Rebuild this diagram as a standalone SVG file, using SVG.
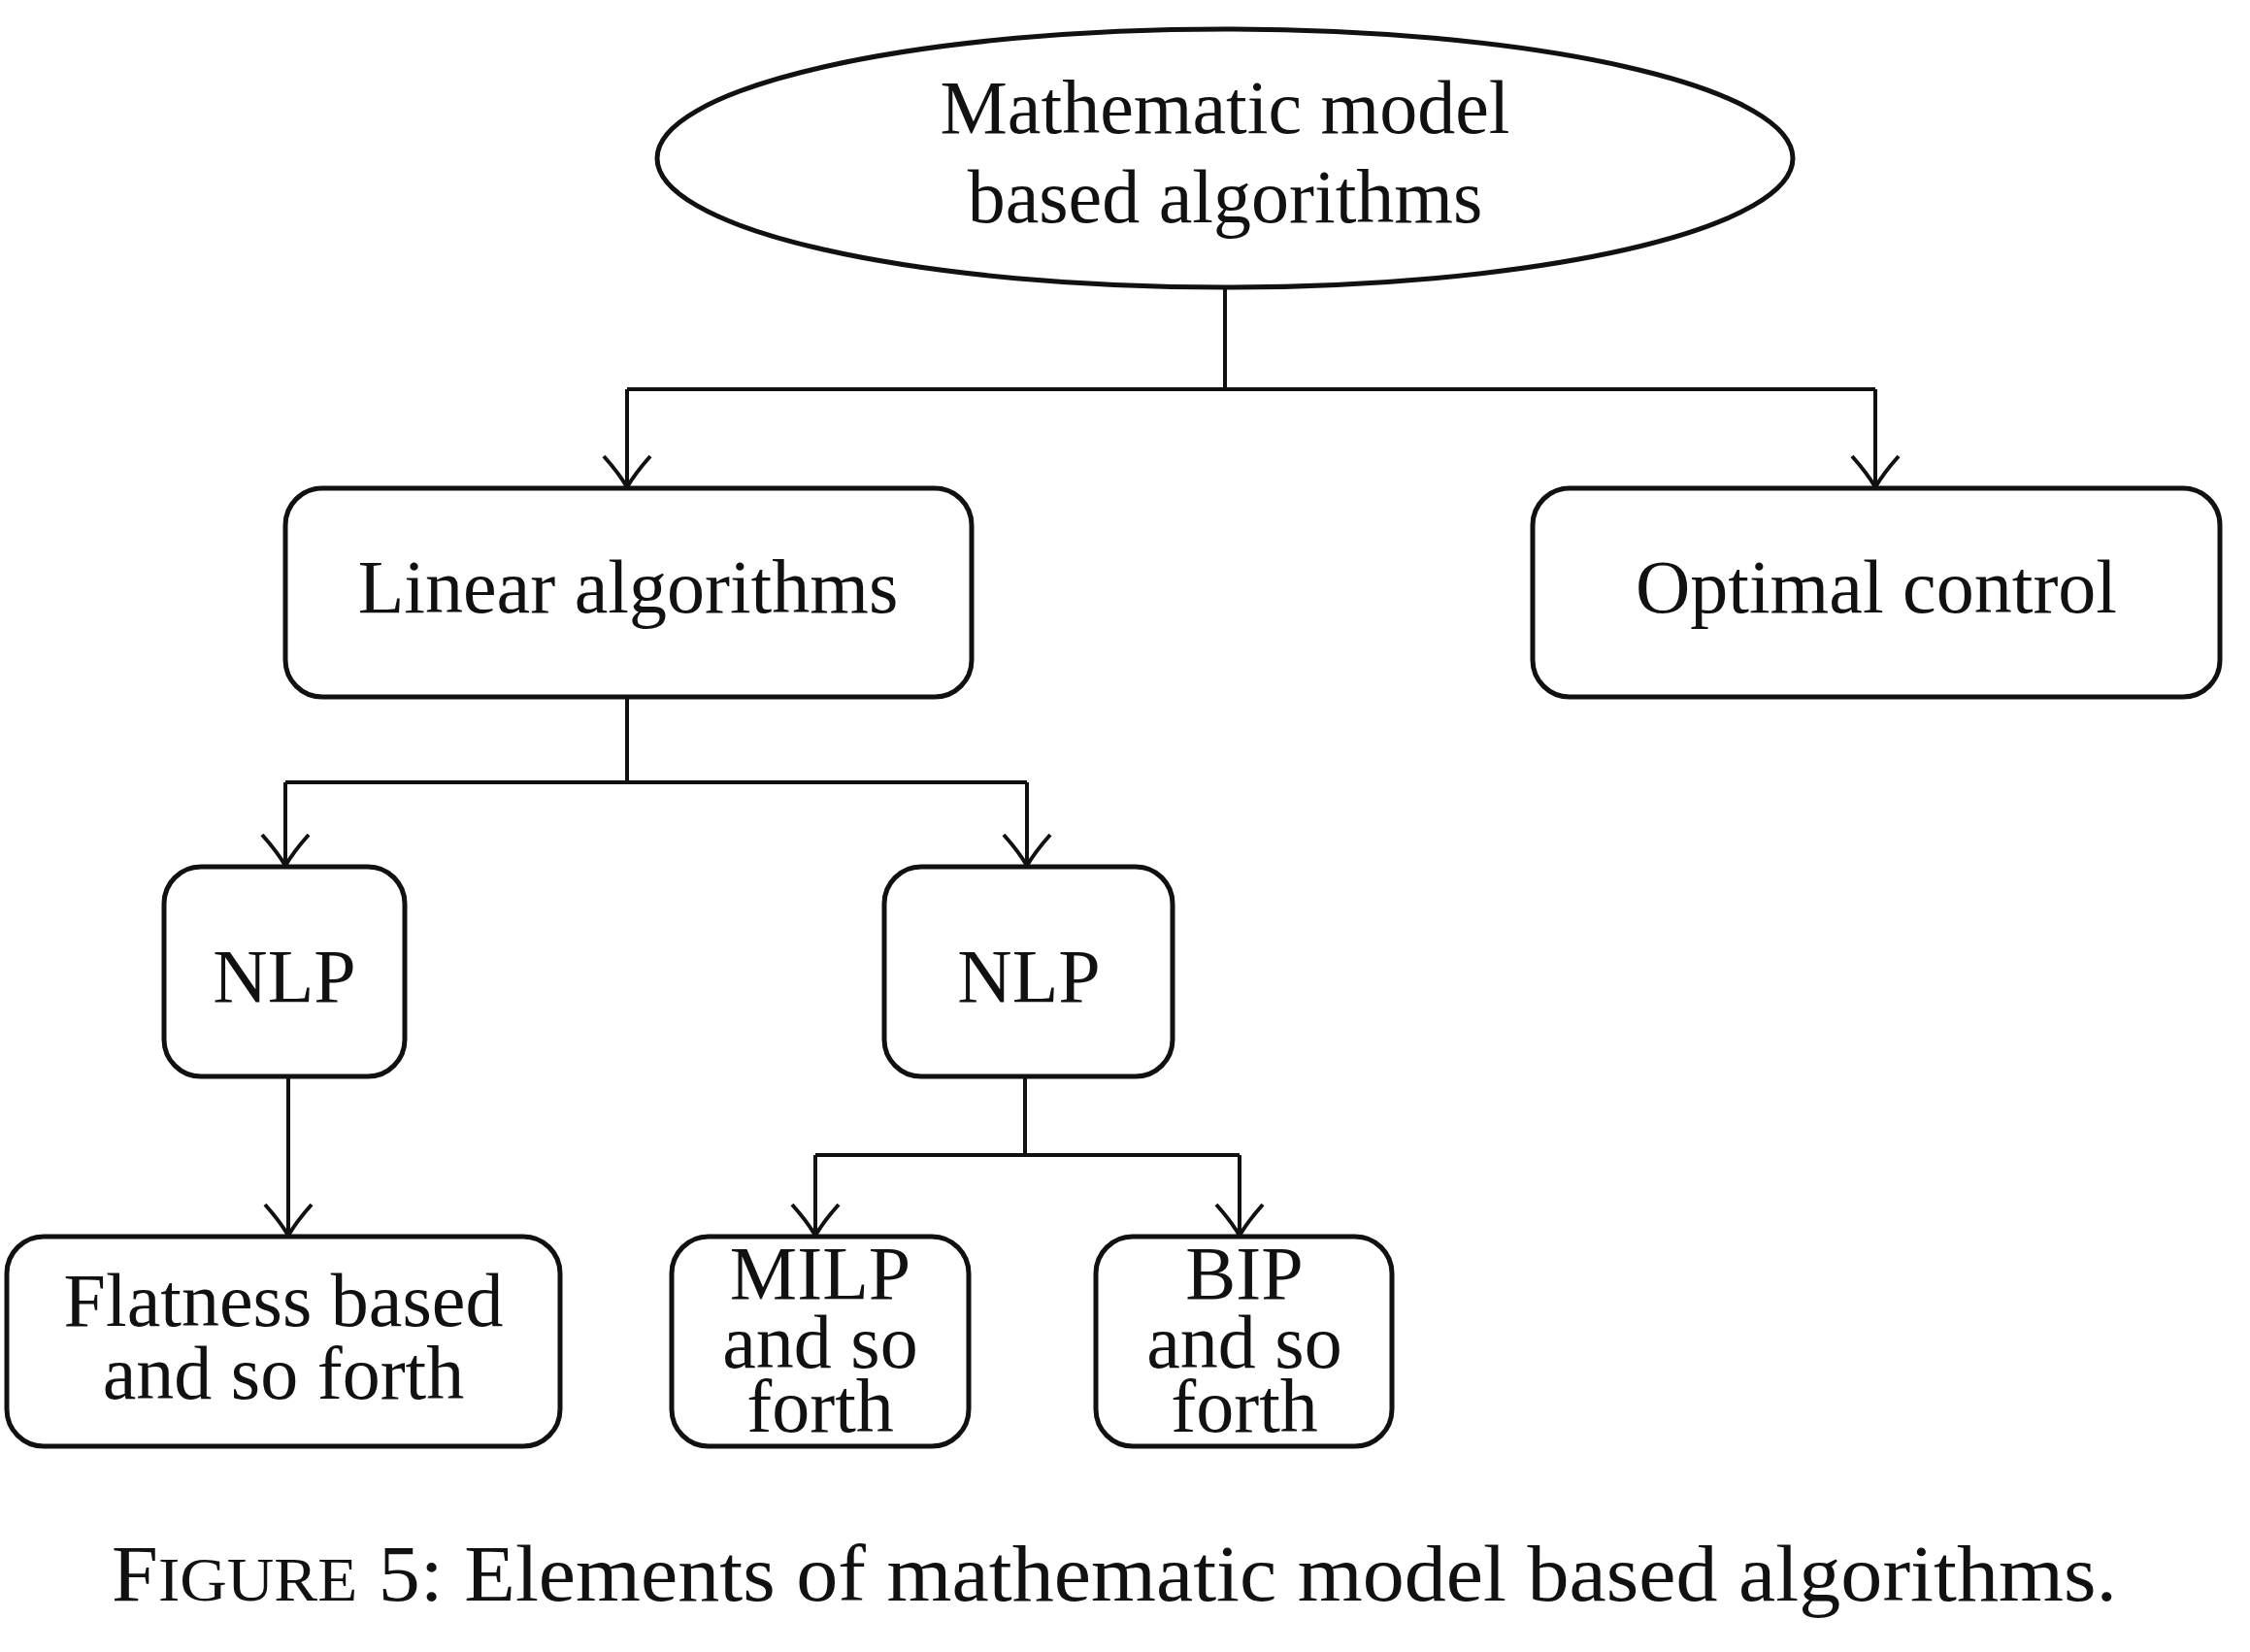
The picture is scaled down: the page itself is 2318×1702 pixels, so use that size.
<svg xmlns="http://www.w3.org/2000/svg" width="2318" height="1702" viewBox="0 0 2318 1702">
<style>
.node{fill:#fff;stroke:#111;stroke-width:5}
.lbl{font-family:"Liberation Serif","Times New Roman",serif;font-size:78px;fill:#111;text-anchor:middle}
.cap{font-family:"Liberation Serif","Times New Roman",serif;font-size:82px;fill:#111}
.conn{fill:none;stroke:#111;stroke-width:4}
.head{fill:none;stroke:#111;stroke-width:4;stroke-linejoin:miter}
</style>
<defs>
<marker id="arr" markerUnits="userSpaceOnUse" markerWidth="80" markerHeight="80" refX="0" refY="0" viewBox="-40 -40 80 80" orient="auto" overflow="visible">
<path class="head" d="M-32,-24 Q-14,-8 0,0 Q-14,8 -32,24"/>
</marker>
</defs>
<rect width="2318" height="1702" fill="#fff"/>
<g id="connectors">
<path class="conn" d="M1262,296 V401"/>
<path class="conn" d="M646,401 H1932"/>
<path class="conn" d="M646,401 V502" marker-end="url(#arr)"/>
<path class="conn" d="M1932,401 V502" marker-end="url(#arr)"/>
<path class="conn" d="M646,718 V806"/>
<path class="conn" d="M294,806 H1058"/>
<path class="conn" d="M294,806 V892" marker-end="url(#arr)"/>
<path class="conn" d="M1058,806 V892" marker-end="url(#arr)"/>
<path class="conn" d="M297,1109 V1273" marker-end="url(#arr)"/>
<path class="conn" d="M1056,1109 V1190"/>
<path class="conn" d="M840,1190 H1277"/>
<path class="conn" d="M840,1190 V1273" marker-end="url(#arr)"/>
<path class="conn" d="M1277,1190 V1273" marker-end="url(#arr)"/>
</g>
<g id="n-root">
<ellipse class="node" cx="1262" cy="163" rx="585" ry="133"/>
<text class="lbl" x="1262" y="137">Mathematic model</text>
<text class="lbl" x="1262" y="229">based algorithms</text>
</g>
<g id="n-linear">
<rect class="node" x="294" y="503" width="707" height="215" rx="38"/>
<text class="lbl" x="647" y="631">Linear algorithms</text>
</g>
<g id="n-optimal">
<rect class="node" x="1579" y="503" width="708" height="215" rx="38"/>
<text class="lbl" x="1933" y="631">Optimal control</text>
</g>
<g id="n-nlp1">
<rect class="node" x="169" y="893" width="248" height="216" rx="38"/>
<text class="lbl" x="293" y="1032">NLP</text>
</g>
<g id="n-nlp2">
<rect class="node" x="911" y="893" width="297" height="216" rx="38"/>
<text class="lbl" x="1060" y="1032">NLP</text>
</g>
<g id="n-flat">
<rect class="node" x="7" y="1274" width="570" height="216" rx="38"/>
<text class="lbl" x="292" y="1366">Flatness based</text>
<text class="lbl" x="292" y="1441">and so forth</text>
</g>
<g id="n-milp">
<rect class="node" x="692" y="1274" width="306" height="216" rx="38"/>
<text class="lbl" x="845" y="1338">MILP</text>
<text class="lbl" x="845" y="1409">and so</text>
<text class="lbl" x="845" y="1475">forth</text>
</g>
<g id="n-bip">
<rect class="node" x="1129" y="1274" width="305" height="216" rx="38"/>
<text class="lbl" x="1282" y="1338">BIP</text>
<text class="lbl" x="1282" y="1409">and so</text>
<text class="lbl" x="1282" y="1475">forth</text>
</g>
<text class="cap" x="115" y="1649" textLength="2066" lengthAdjust="spacingAndGlyphs">F<tspan font-size="64">IGURE</tspan> 5: Elements of mathematic model based algorithms.</text>
</svg>
